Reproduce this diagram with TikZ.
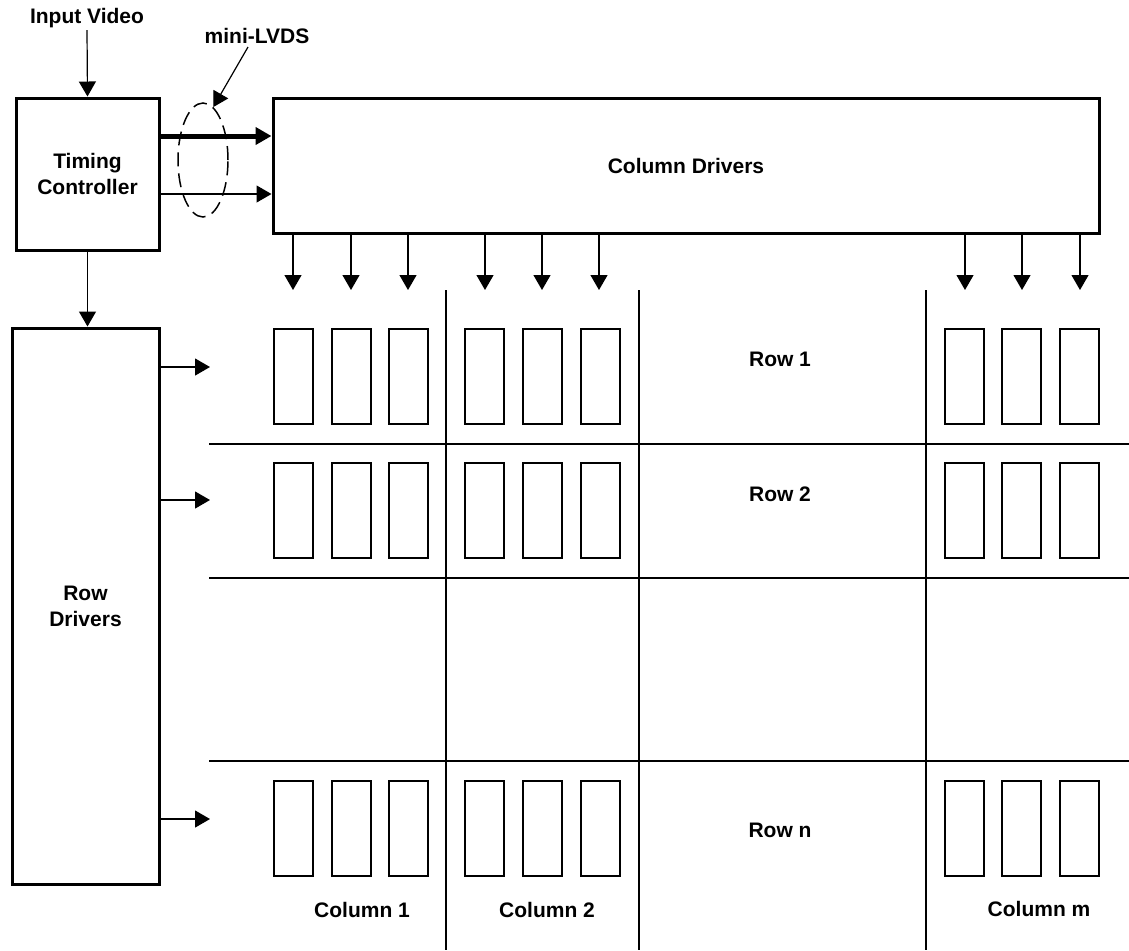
\documentclass[tikz,border=0pt]{standalone}
\usepackage{fontspec}
\setmainfont{Liberation Sans}
\usetikzlibrary{arrows.meta,shapes.geometric}
\begin{document}
\begin{tikzpicture}[x=0.5pt,y=-0.5pt,
  font=\fontsize{10.5pt}{13pt}\selectfont\bfseries,
  box/.style={draw,line width=1.5pt,inner sep=0pt,align=center},
  txt/.style={inner sep=1pt,align=center},
  arr/.style={line width=0.6pt,-{Triangle[length=7.5pt,width=8.5pt]}},
  fatarr/.style={line width=2.5pt,-{Triangle[length=8pt,width=8.5pt]}},
  grid/.style={line width=0.6pt},
  cellbox/.style={line width=1pt}]
\useasboundingbox (0,0) rectangle (1129,950);

% blocks
\node[box,minimum width=71.5pt,minimum height=76pt] (tc) at (87.5,174) {Timing\\Controller};
\node[box,minimum width=413pt,minimum height=67.5pt] (cd) at (686,165.5) {Column Drivers};
\node[box,minimum width=73.5pt,minimum height=278pt] (rd) at (85.5,606) {Row\\Drivers};

% labels
\node[txt] (iv) at (87,18) {Input Video};
\node[txt] (lv) at (257,36) {mini-LVDS};
\node[draw,dashed,dash pattern=on 7pt off 3.5pt,line width=0.75pt,ellipse,inner sep=0pt,
      minimum width=25pt,minimum height=57pt] (lvds) at (203,160) {};
\coordinate (lvs) at (248,47);

% input and control arrows
\draw[arr] (iv.south) -- (tc.north);
\draw[arr] (tc.south) -- (tc.south |- rd.north);
\draw[fatarr] (tc.east |- 0,136) -- (cd.west |- 0,136);
\draw[arr] (tc.east |- 0,194) -- (cd.west |- 0,194);
\draw[arr] (lvs) -- (lvds.79);

% column driver outputs
\foreach \x [count=\i] in {293,351,408,485,542,599,965,1022,1080} {
  \coordinate (ct\i) at (\x,290);
  \draw[arr] (cd.south -| ct\i) -- (ct\i);
}

% row driver outputs
\coordinate (rt1) at (210,367);
\coordinate (rt2) at (210,500);
\coordinate (rt3) at (210,819);
\foreach \i in {1,2,3} {
  \draw[arr] (rd.east |- rt\i) -- (rt\i);
}

% grid
\foreach \y in {444,578,761} \draw[grid] (209,\y) -- (1129,\y);
\foreach \x in {446,639,926} \draw[grid] (\x,290) -- (\x,950);

% pixel cells
\foreach \y in {329,463,781} {
  \foreach \x in {274,332,389,465,523,581,945,1002,1060} {
    \draw[cellbox] (\x,\y) rectangle ++(39,95);
  }
}

% row / column labels
\node[txt] (r1) at (780,359) {Row 1};
\node[txt] (r2) at (780,494) {Row 2};
\node[txt] (rn) at (780,830) {Row n};
\node[txt] (c1) at (362,910) {Column 1};
\node[txt] (c2) at (547,910) {Column 2};
\node[txt] (cm) at (1039,909) {Column m};
\end{tikzpicture}
\end{document}
